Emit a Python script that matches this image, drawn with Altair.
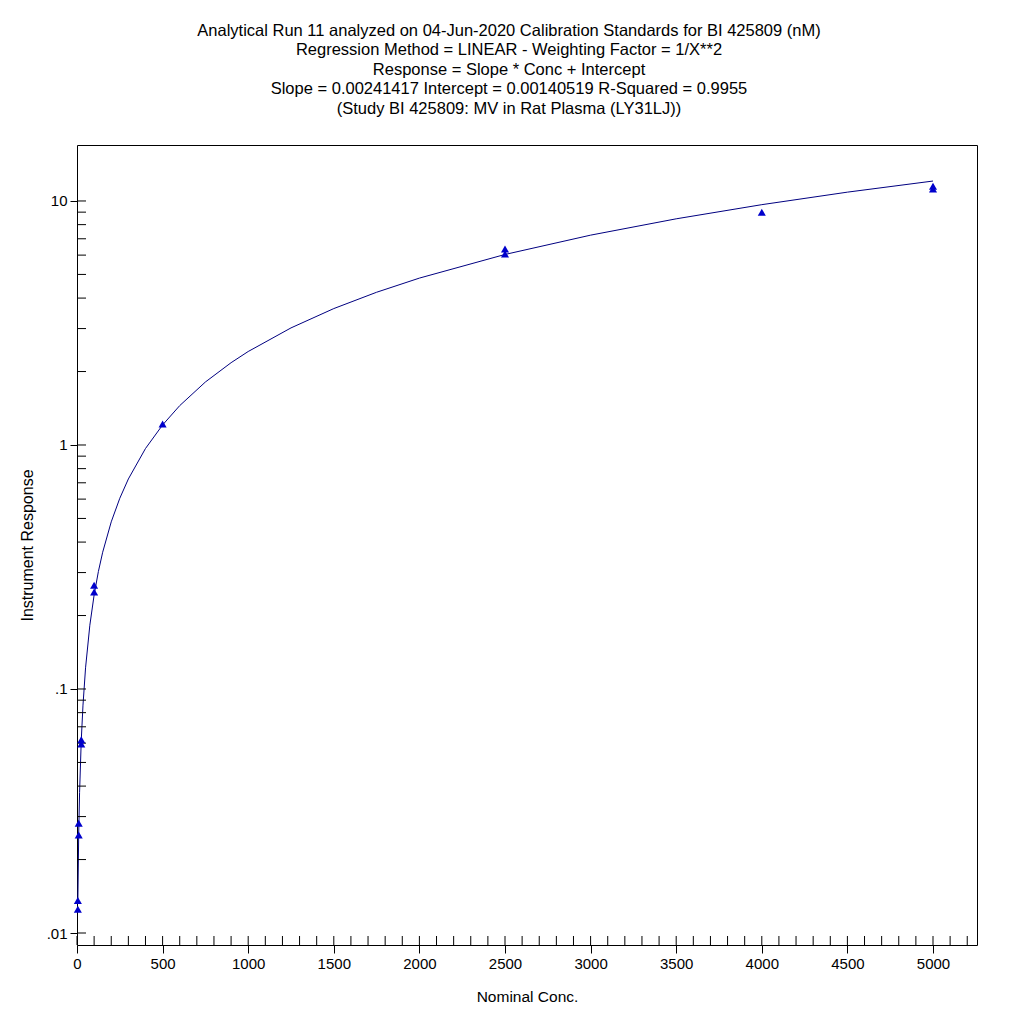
import altair as alt
import pandas as pd

# Calibration standards (nominal conc. nM, instrument response)
std_conc = [5, 5, 10, 10, 25, 25, 100, 100, 500, 2500, 2500, 4000, 5000, 5000]
std_resp = [0.0136, 0.0125, 0.0282, 0.0252, 0.0620, 0.0595, 0.266, 0.250,
            1.22, 6.36, 6.06, 9.00, 11.5, 11.2]

# Regression line
fit_conc = [5, 10, 15, 25, 35, 50, 75, 100, 125, 150, 200, 250, 300, 400, 500,
            600, 750, 900, 1000, 1250, 1500, 1750, 2000, 2500, 3000, 3500, 4000,
            4500, 5000]
fit_resp = [0.01348, 0.02555, 0.03762, 0.06176, 0.08590, 0.1221, 0.1825, 0.2428,
            0.3032, 0.3635, 0.4842, 0.6050, 0.7257, 0.9671, 1.208, 1.450, 1.812,
            2.174, 2.416, 3.019, 3.623, 4.226, 4.830, 6.037, 7.244, 8.451, 9.658,
            10.87, 12.07]

title_lines = [
    "Analytical Run 11 analyzed on 04-Jun-2020 Calibration Standards for BI 425809 (nM)",
    "Regression Method = LINEAR - Weighting Factor = 1/X**2",
    "Response = Slope * Conc + Intercept",
    "Slope = 0.00241417 Intercept = 0.00140519 R-Squared = 0.9955",
    "(Study BI 425809: MV in Rat Plasma (LY31LJ))",
]

x_major = [0, 500, 1000, 1500, 2000, 2500, 3000, 3500, 4000, 4500, 5000]
x_minor = [100 * i for i in range(0, 53)]
y_major = [0.01, 0.1, 1, 10]
y_minor = [m * d for d in [0.01, 0.1, 1] for m in range(2, 10)]

W, H = 900, 800
FONT = "Liberation Sans"
X_DOM = [0, 5257]
Y_DOM = [0.00893, 16.96]

xs = alt.Scale(domain=X_DOM, nice=False, zero=False)
ys = alt.Scale(type="log", domain=Y_DOM, nice=False)

std_df = pd.DataFrame({"conc": std_conc, "resp": std_resp})
fit_df = pd.DataFrame({"conc": fit_conc, "resp": fit_resp})

base_x = alt.X("conc:Q", scale=xs, title="Nominal Conc.",
               axis=alt.Axis(values=x_major, grid=False, domain=False, format="d",
                             tickSize=8, tickColor="black", labelColor="black",
                             labelFont=FONT, labelFontSize=15, labelPadding=3,
                             titleFont=FONT, titleFontSize=15.5, titleFontWeight="normal",
                             titleColor="black", titlePadding=18, labelFlush=False))
base_y = alt.Y("resp:Q", scale=ys, title="Instrument Response",
               axis=alt.Axis(values=y_major, grid=False, domain=False,
                             tickSize=7, tickColor="black", labelColor="black",
                             labelFont=FONT, labelFontSize=15, labelPadding=3,
                             labelExpr="replace(format(datum.value, '~g'), /^0\\./, '.')",
                             titleFont=FONT, titleFontSize=16, titleFontWeight="normal",
                             titleColor="black", titlePadding=11))

line = alt.Chart(fit_df).mark_line(color="#000080", strokeWidth=1, clip=True).encode(
    x=base_x, y=base_y
)

pts = alt.Chart(std_df).mark_point(shape="triangle-up", filled=True, opacity=1,
                                   color="#0000CC", size=65).encode(
    x=alt.X("conc:Q", scale=xs), y=alt.Y("resp:Q", scale=ys)
)

# inward tick marks
xmin_df = pd.DataFrame({"t": x_minor})
ymin_df = pd.DataFrame({"t": y_minor})
ymaj_df = pd.DataFrame({"t": y_major})

x_ticks_in = alt.Chart(xmin_df).mark_rule(color="black", strokeWidth=1).encode(
    x=alt.X("t:Q", scale=xs), y=alt.value(H), y2=alt.value(H - 9)
)
y_minor_in = alt.Chart(ymin_df).mark_rule(color="black", strokeWidth=1).encode(
    y=alt.Y("t:Q", scale=ys), x=alt.value(0), x2=alt.value(9)
)
y_major_in = alt.Chart(ymaj_df).mark_rule(color="black", strokeWidth=1).encode(
    y=alt.Y("t:Q", scale=ys), x=alt.value(0), x2=alt.value(9)
)

chart = alt.layer(line, x_ticks_in, y_minor_in, y_major_in, pts).properties(
    width=W, height=H,
    autosize=alt.AutoSizeParams(type="none"),
    padding={"left": 69, "top": 137, "right": 30, "bottom": 70},
    title=alt.TitleParams(text=title_lines, font=FONT, fontSize=16.5, fontWeight="normal",
                          color="black", anchor="middle", frame="group", dx=-18,
                          lineHeight=19.5, offset=28),
).configure_view(stroke="black", strokeWidth=1)

chart.save("out.html", embed_options={"renderer": "svg", "actions": False})
